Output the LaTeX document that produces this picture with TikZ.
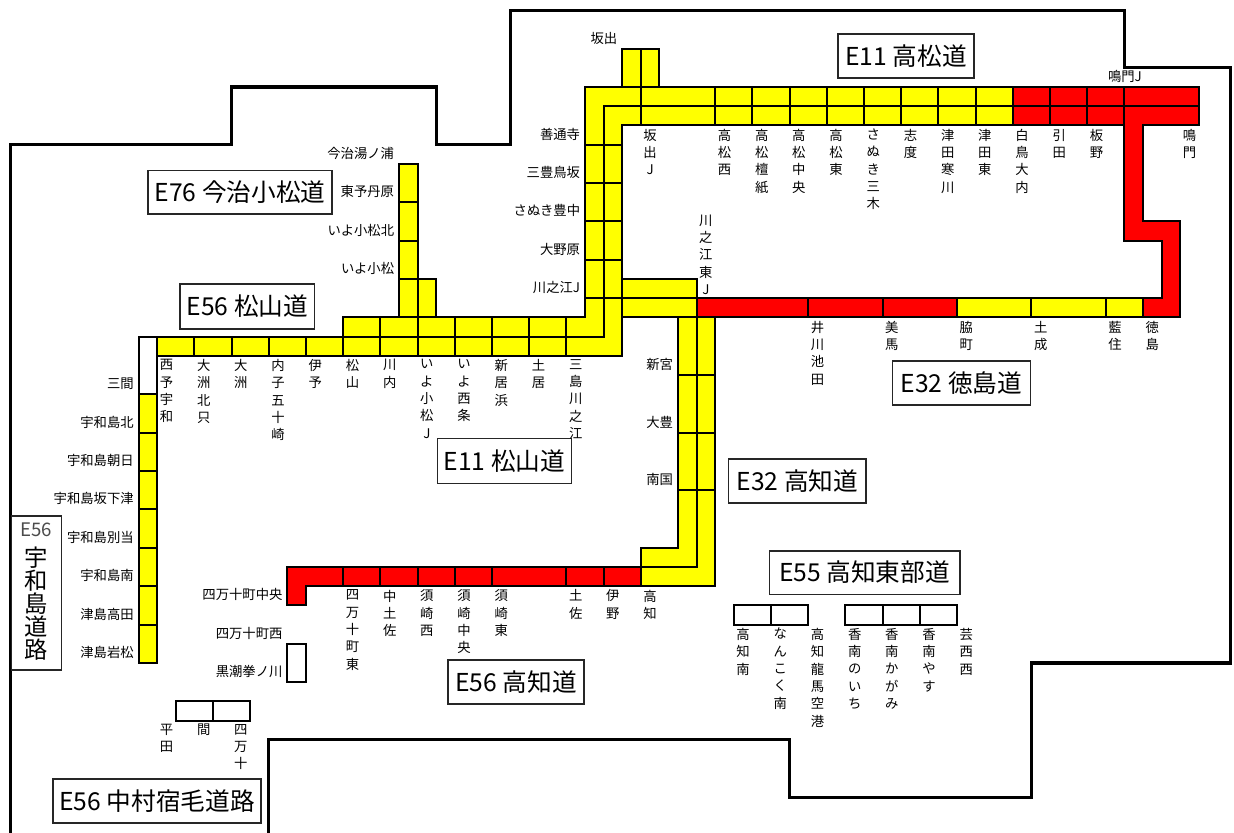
\documentclass[tikz,border=0pt]{standalone}
\usepackage{fontspec}
\setmainfont{Noto Sans CJK JP}

\definecolor{roadyellow}{HTML}{FFFF00}
\definecolor{roadred}{HTML}{FF0000}
\newcommand{\lblfont}{\fontsize{10}{13}\selectfont}

\tikzset{
  ylw/.style={draw=black, line width=1.4pt, fill=roadyellow},
  rd/.style={draw=black, line width=1.4pt, fill=roadred},
  wht/.style={draw=black, line width=1.4pt, fill=white},
  lbl/.style={anchor=north, align=center, inner sep=2.5pt, font=\lblfont},
  lft/.style={anchor=east, inner sep=0pt, xshift=-3.5pt, font=\lblfont},
  rtitle/.style={draw=black!85, line width=0.9pt, fill=white, inner sep=0pt, font=\fontsize{18.5}{20}\selectfont},
  frameline/.style={draw=black, line width=2.4pt}
}

\begin{document}
\begin{tikzpicture}[x=13.95pt, y=-14.4pt]
                \useasboundingbox (-31.452,-4.531) rectangle (34.892,38.854);
                % coast frame
                \draw[frameline] (-30.9,39) -- (-30.9,3) -- (-19,3) -- (-19,0) -- (-8,0) -- (-8,3) -- (-4,3) -- (-4,-4) -- (29,-4) -- (29,-1) -- (34.7,-1) -- (34.7,30) -- (24,30) -- (24,37) -- (11,37) -- (11,34) -- (-17,34) -- (-17,39);
                % E11 Takamatsu
                \draw[ylw] (2,-2) rectangle (3,0) (3,-2) rectangle (4,0);
                \draw[ylw] (0,0) -- (3,0) -- (3,1) -- (1,1) -- (1,3) -- (0,3) -- cycle;
                \draw[ylw] (1,1) -- (3,1) -- (3,2) -- (2,2) -- (2,3) -- (1,3) -- cycle;
                \draw[ylw] (3,0) rectangle (7,1) (7,0) rectangle (9,1) (9,0) rectangle (11,1) (11,0) rectangle (13,1) (13,0) rectangle (15,1) (15,0) rectangle (17,1) (17,0) rectangle (19,1) (19,0) rectangle (21,1) (21,0) rectangle (23,1);
                \draw[ylw] (3,1) rectangle (7,2) (7,1) rectangle (9,2) (9,1) rectangle (11,2) (11,1) rectangle (13,2) (13,1) rectangle (15,2) (15,1) rectangle (17,2) (17,1) rectangle (19,2) (19,1) rectangle (21,2) (21,1) rectangle (23,2);
                \draw[rd] (23,0) rectangle (25,1) (25,0) rectangle (27,1) (27,0) rectangle (29,1) (29,0) rectangle (33,1);
                \draw[rd] (23,1) rectangle (25,2) (25,1) rectangle (27,2) (27,1) rectangle (29,2);
                \draw[rd] (29,1) -- (33,1) -- (33,2) -- (30,2) -- (30,7) -- (32,7) -- (32,12) -- (30,12) -- (30,11) -- (31,11) -- (31,8) -- (29,8) -- cycle;
                \draw[ylw] (0,3) rectangle (1,5) (0,5) rectangle (1,7) (0,7) rectangle (1,9) (0,9) rectangle (1,11);
                \draw[ylw] (1,3) rectangle (2,5) (1,5) rectangle (2,7) (1,7) rectangle (2,9) (1,9) rectangle (2,11);
                \draw[ylw] (0,11) -- (1,11) -- (1,13) -- (-1,13) -- (-1,12) -- (0,12) -- cycle;
                \draw[ylw] (1,11) -- (2,11) -- (2,14) -- (-1,14) -- (-1,13) -- (1,13) -- cycle;
                \draw[ylw] (2,10) rectangle (6,11) (2,11) rectangle (6,12);
                % E32 Tokushima
                \draw[rd] (6,11) rectangle (12,12) (12,11) rectangle (16,12) (16,11) rectangle (20,12);
                \draw[ylw] (20,11) rectangle (24,12) (24,11) rectangle (28,12) (28,11) rectangle (30,12);
                % E32 Kochi
                \draw[ylw] (5,12) rectangle (6,15) (5,15) rectangle (6,18) (5,18) rectangle (6,21) (6,12) rectangle (7,15) (6,15) rectangle (7,18) (6,18) rectangle (7,21);
                \draw[ylw] (5,21) -- (6,21) -- (6,25) -- (3,25) -- (3,24) -- (5,24) -- cycle;
                \draw[ylw] (6,21) -- (7,21) -- (7,26) -- (3,26) -- (3,25) -- (6,25) -- cycle;
                % E56 Kochi
                \draw[rd] (-16,25) -- (-13,25) -- (-13,26) -- (-15,26) -- (-15,27) -- (-16,27) -- cycle;
                \draw[rd] (-13,25) rectangle (-11,26) (-11,25) rectangle (-9,26) (-9,25) rectangle (-7,26) (-7,25) rectangle (-5,26) (-5,25) rectangle (-1,26) (-1,25) rectangle (1,26) (1,25) rectangle (3,26);
                \draw[wht] (-16,29) rectangle (-15,31);
                % E11 / E56 Matsuyama
                \draw[ylw] (-13,12) rectangle (-11,13) (-11,12) rectangle (-9,13) (-9,12) rectangle (-7,13) (-7,12) rectangle (-5,13) (-5,12) rectangle (-3,13) (-3,12) rectangle (-1,13);
                \draw[ylw] (-13,13) rectangle (-11,14) (-11,13) rectangle (-9,14) (-9,13) rectangle (-7,14) (-7,13) rectangle (-5,14) (-5,13) rectangle (-3,14) (-3,13) rectangle (-1,14);
                \draw[ylw] (-23,13) rectangle (-21,14) (-21,13) rectangle (-19,14) (-19,13) rectangle (-17,14) (-17,13) rectangle (-15,14) (-15,13) rectangle (-13,14);
                % E76 Imabari
                \draw[ylw] (-10,4) rectangle (-9,6) (-10,6) rectangle (-9,8) (-10,8) rectangle (-9,10) (-10,10) rectangle (-9,12) (-9,10) rectangle (-8,12);
                % E56 Uwajima
                \draw[wht] (-24,13) rectangle (-23,16);
                \draw[ylw] (-24,16) rectangle (-23,18) (-24,18) rectangle (-23,20) (-24,20) rectangle (-23,22) (-24,22) rectangle (-23,24) (-24,24) rectangle (-23,26) (-24,26) rectangle (-23,28) (-24,28) rectangle (-23,30);
                % E56 Nakamura, E55 Kochi east
                \draw[wht] (-22,32) rectangle (-20,33) (-20,32) rectangle (-18,33);
                \draw[wht] (8,27) rectangle (10,28) (10,27) rectangle (12,28) (14,27) rectangle (16,28) (16,27) rectangle (18,28) (18,27) rectangle (20,28);

                % route titles
                \node[rtitle, minimum width=102pt, minimum height=33pt] (E11tkm) at (17.26,-1.61) {E11 高松道};
                \node[rtitle, minimum width=138pt, minimum height=32.3pt] (E76imb) at (-18.55,5.49) {E76 今治小松道};
                \node[rtitle, minimum width=101pt, minimum height=33.8pt] (E56mty) at (-18.15,11.43) {E56 松山道};
                \node[rtitle, minimum width=101pt, minimum height=33.8pt] (E11mty) at (-4.33,19.48) {E11 松山道};
                \node[rtitle, minimum width=103pt, minimum height=33pt] (E32tks) at (20.24,15.42) {E32 徳島道};
                \node[rtitle, minimum width=103pt, minimum height=33pt] (E32kch) at (11.42,20.52) {E32 高知道};
                \node[rtitle, minimum width=143pt, minimum height=32.3pt] (E55kch) at (15.03,25.29) {E55 高知東部道};
                \node[rtitle, minimum width=102pt, minimum height=33pt] (E56kch) at (-3.71,30.99) {E56 高知道};
                \node[rtitle, minimum width=156pt, minimum height=33pt] (E56nkm) at (-23.01,37.19) {E56 中村宿毛道路};
                \node[rtitle, minimum width=38pt, minimum height=115.5pt] (E56uwj) at (-29.49,26.35) {};
                \node[font=\fontsize{14}{16}\selectfont, text=black!70, inner sep=0pt] (E56uwjNo) at (-29.49,23.07) {E56};
                \node[align=center, inner sep=0pt, font=\fontsize{17.5}{17.25}\selectfont] (E56uwjName) at (-29.49,26.93) {宇\\和\\島\\道\\路};

                % Takamatsu labels
                \node[lft] (sakaide) at (2,-2.55) {坂出};
                \node[lft] (narutoJ) at (30.2,-0.55) {鳴門J};
                \node[lbl] (sakaideJ) at (3.5,2) {坂\\出\\J};
                \node[lbl] (tkmW) at (7.5,2) {高\\松\\西};
                \node[lbl] (tkmDanshi) at (9.5,2) {高\\松\\檀\\紙};
                \node[lbl] (tkmC) at (11.5,2) {高\\松\\中\\央};
                \node[lbl] (tkmE) at (13.5,2) {高\\松\\東};
                \node[lbl] (sanukiMiki) at (15.5,2) {さ\\ぬ\\き\\三\\木};
                \node[lbl] (shido) at (17.5,2) {志\\度};
                \node[lbl] (tsudaSangawa) at (19.5,2) {津\\田\\寒\\川};
                \node[lbl] (tsudaE) at (21.5,2) {津\\田\\東};
                \node[lbl] (shirotori) at (23.5,2) {白\\鳥\\大\\内};
                \node[lbl] (hiketa) at (25.5,2) {引\\田};
                \node[lbl] (itano) at (27.5,2) {板\\野};
                \node[lbl] (naruto) at (32.5,2) {鳴\\門};
                \node[lft] (zentsuji) at (0,2.45) {善通寺};
                \node[lft] (mitoyo) at (0,4.45) {三豊鳥坂};
                \node[lft] (toyonaka) at (0,6.45) {さぬき豊中};
                \node[lft] (ohnohara) at (0,8.45) {大野原};
                \node[lft] (kawanoeJ) at (0,10.45) {川之江J};
                \node[lbl, anchor=south] (kawanoeEJ) at (6.5,11) {川\\之\\江\\東\\J};
                % Imabari labels
                \node[lft] (yunoura) at (-10,3.45) {今治湯ノ浦};
                \node[lft] (tanbara) at (-10,5.45) {東予丹原};
                \node[lft] (komatsuN) at (-10,7.45) {いよ小松北};
                \node[lft] (komatsu) at (-10,9.45) {いよ小松};
                % Matsuyama labels
                \node[lbl] (seiyo) at (-22.5,14) {西\\予\\宇\\和};
                \node[lbl] (ozuN) at (-20.5,14) {大\\洲\\北\\只};
                \node[lbl] (ozu) at (-18.5,14) {大\\洲};
                \node[lbl] (uchiko) at (-16.5,14) {内\\子\\五\\十\\崎};
                \node[lbl] (iyo) at (-14.5,14) {伊\\予};
                \node[lbl] (matsuyama) at (-12.5,14) {松\\山};
                \node[lbl] (kawauchi) at (-10.5,14) {川\\内};
                \node[lbl] (komatsuJ) at (-8.5,14) {い\\よ\\小\\松\\J};
                \node[lbl] (saijo) at (-6.5,14) {い\\よ\\西\\条};
                \node[lbl] (niihama) at (-4.5,14) {新\\居\\浜};
                \node[lbl] (doi) at (-2.5,14) {土\\居};
                \node[lbl] (mishima) at (-0.5,14) {三\\島\\川\\之\\江};
                % Uwajima labels
                \node[lft] (mima) at (-24,15.45) {三間};
                \node[lft] (uwaN) at (-24,17.45) {宇和島北};
                \node[lft] (uwaAsahi) at (-24,19.45) {宇和島朝日};
                \node[lft] (uwaSakashita) at (-24,21.45) {宇和島坂下津};
                \node[lft] (uwaBetto) at (-24,23.45) {宇和島別当};
                \node[lft] (uwaS) at (-24,25.45) {宇和島南};
                \node[lft] (tsushimaT) at (-24,27.45) {津島高田};
                \node[lft] (tsushimaI) at (-24,29.45) {津島岩松};
                % Tokushima labels
                \node[lbl] (ikawa) at (12.5,12) {井\\川\\池\\田};
                \node[lbl] (mima2) at (16.5,12) {美\\馬};
                \node[lbl] (wakimachi) at (20.5,12) {脇\\町};
                \node[lbl] (donari) at (24.5,12) {土\\成};
                \node[lbl] (aizumi) at (28.5,12) {藍\\住};
                \node[lbl] (tokushima) at (30.5,12) {徳\\島};
                % Kochi labels
                \node[lft] (shingu) at (5,14.45) {新宮};
                \node[lft] (otoyo) at (5,17.45) {大豊};
                \node[lft] (nankoku) at (5,20.45) {南国};
                \node[lbl] (shimantoE) at (-12.5,26) {四\\万\\十\\町\\東};
                \node[lbl] (nakatosa) at (-10.5,26) {中\\土\\佐};
                \node[lbl] (susakiW) at (-8.5,26) {須\\崎\\西};
                \node[lbl] (susakiC) at (-6.5,26) {須\\崎\\中\\央};
                \node[lbl] (susakiE) at (-4.5,26) {須\\崎\\東};
                \node[lbl] (tosa) at (-0.5,26) {土\\佐};
                \node[lbl] (ino) at (1.5,26) {伊\\野};
                \node[lbl] (kochi) at (3.5,26) {高\\知};
                \node[lft] (shimantoC) at (-16,26.45) {四万十町中央};
                \node[lft] (shimantoW) at (-16,28.45) {四万十町西};
                \node[lft] (kobushinokawa) at (-16,30.45) {黒潮拳ノ川};
                % Kochi east labels
                \node[lbl] (kochiS) at (8.5,28) {高\\知\\南};
                \node[lbl] (nankokuS) at (10.5,28) {な\\ん\\こ\\く\\南};
                \node[lbl] (ryoma) at (12.5,28) {高\\知\\龍\\馬\\空\\港};
                \node[lbl] (noichi) at (14.5,28) {香\\南\\の\\い\\ち};
                \node[lbl] (kagami) at (16.5,28) {香\\南\\か\\が\\み};
                \node[lbl] (yasu) at (18.5,28) {香\\南\\や\\す};
                \node[lbl] (geiseiW) at (20.5,28) {芸\\西\\西};
                % Nakamura labels
                \node[lbl] (hirata) at (-22.5,33) {平\\田};
                \node[lbl] (hazama) at (-20.5,33) {間};
                \node[lbl] (shimanto) at (-18.5,33) {四\\万\\十};
\end{tikzpicture}
\end{document}
